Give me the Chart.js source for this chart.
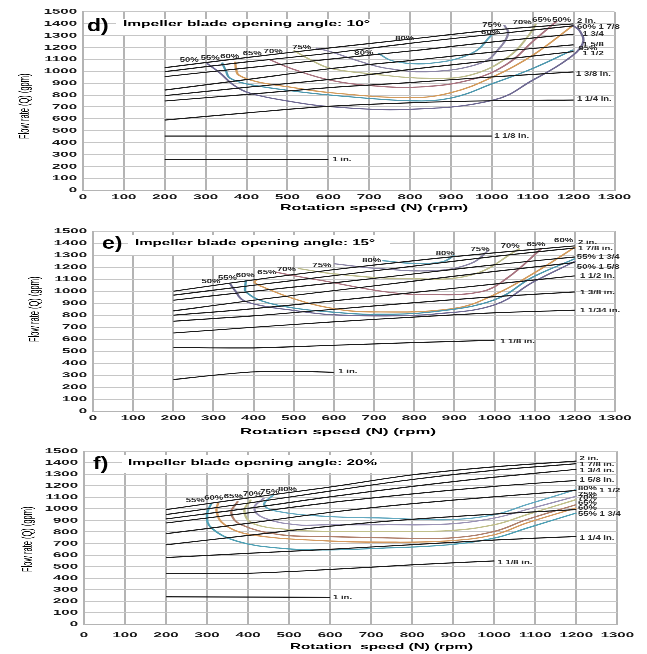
<!DOCTYPE html>
<html>
<head>
<meta charset="utf-8">
<script src="https://cdn.jsdelivr.net/npm/chart.js"></script>
<style>
  html, body { margin: 0; padding: 0; background: #fff; overflow: hidden; }
  /* the source picture is squashed vertically, so draw at 2x height and squash */
  #wrap { position: absolute; left: 0; top: 0; width: 647px; height: 1308px; transform: scaleY(0.5); transform-origin: 0 0; }
  #wrap canvas { position: absolute; left: 0; }
</style>
</head>
<body>
<div id="wrap">
  <canvas id="chartD" width="647" height="436" style="top:0"></canvas>
  <canvas id="chartE" width="647" height="436" style="top:436px"></canvas>
  <canvas id="chartF" width="647" height="436" style="top:872px"></canvas>
</div>
<script>
// rotation speed points where the pipe curves were read
const rpm = [200, 400, 600, 800, 1000, 1200];
const rpmTo1000 = [200, 400, 600, 800, 1000];
const rpmTo600 = [200, 400, 600];
const rpmTo600Fine = [200, 300, 400, 500, 600];

// d) 10 deg - flow rate per pipe size (gpm)
const flowD2 = [1030, 1115, 1195, 1270, 1345, 1398];
const flowD178 = [997, 1078, 1150, 1235, 1310, 1382];
const flowD134 = [955, 1028, 1100, 1170, 1245, 1312];
const flowD158 = [842, 930, 1020, 1090, 1160, 1222];
const flowD112 = [795, 865, 930, 1015, 1090, 1165];
const flowD138 = [750, 805, 862, 905, 952, 994];
const flowD114 = [590, 650, 705, 735, 752, 758];
const flowD118 = [455, 455, 455, 455, 455];
const flowD1 = [258, 258, 258];

// e) 15 deg
const flowE2 = [1000, 1095, 1180, 1255, 1320, 1378];
const flowE178 = [967, 1050, 1130, 1210, 1290, 1361];
const flowE134 = [925, 1000, 1070, 1145, 1220, 1286];
const flowE158 = [836, 925, 1005, 1085, 1165, 1239];
const flowE112 = [800, 855, 920, 990, 1060, 1128];
const flowE138 = [750, 795, 850, 905, 955, 994];
const flowE114 = [652, 700, 745, 785, 820, 842];
const flowE118 = [531, 528, 550, 572, 592];
const flowE1 = [264, 300, 328, 333, 325];

// f) 20 %
const flowF2 = [994, 1095, 1190, 1295, 1365, 1415];
const flowF178 = [951, 1050, 1155, 1255, 1335, 1392];
const flowF134 = [913, 1005, 1105, 1195, 1275, 1343];
const flowF158 = [878, 965, 1055, 1130, 1195, 1247];
const flowF112 = [785, 875, 970, 1045, 1105, 1160];
const flowF138 = [689, 770, 850, 910, 955, 994];
const flowF114 = [578, 615, 650, 690, 730, 761];
const flowF118 = [442, 442, 475, 515, 549];
const flowF1 = [238, 236, 234];

// efficiency contours, [rpm, gpm]
const effD50 = [[303,1067],[336,983],[368,885],[409,815],[500,750],[605,702],[800,680],[1004,758],[1101,927],[1183,1095],[1222,1230],[1215,1340],[1195,1390]];
const effD55 = [[340,1073],[350,1000],[360,941],[401,893],[500,840],[605,800],[800,752],[900,775],[1004,899],[1101,1025],[1199,1180]];
const effD60 = [[372,1081],[375,1010],[382,965],[425,912],[500,870],[605,820],[800,778],[900,820],[1004,955],[1101,1137],[1199,1386]];
const effD65 = [[458,1095],[520,1010],[605,925],[700,880],[825,868],[950,930],[1037,1060],[1100,1250],[1160,1425]];
const effD70 = [[515,1175],[560,1090],[605,1025],[700,980],[849,940],[950,970],[1040,1120],[1090,1300],[1108,1400]];
const effD75 = [[570,1195],[605,1165],[680,1080],[743,1025],[849,997],[972,1067],[1020,1200],[1040,1320],[1030,1390]];
const effD80 = [[722,1151],[760,1085],[849,1067],[950,1150],[1000,1306]];

const effE50 = [[341,1064],[355,1000],[374,925],[420,880],[500,840],[590,805],[731,795],[850,810],[997,883],[1097,1078],[1201,1250]];
const effE55 = [[381,1092],[379,1030],[381,994],[420,920],[500,860],[590,828],[690,808],[850,830],[997,925],[1096,1119],[1201,1272]];
const effE60 = [[410,1100],[402,1075],[420,1040],[499,939],[590,861],[690,828],[897,856],[997,967],[1096,1147],[1201,1369]];
const effE65 = [[455,1160],[500,1130],[565,1092],[731,994],[839,972],[964,994],[1030,1106],[1117,1356]];
const effE70 = [[510,1190],[600,1145],[773,1106],[939,1133],[1063,1356]];
const effE75 = [[600,1230],[700,1192],[850,1172],[940,1230],[985,1340]];
const effE80 = [[720,1255],[800,1232],[870,1245],[900,1300]];

const effF55 = [[311,1052],[300,950],[311,834],[375,718],[479,659],[591,645],[728,660],[888,689],[1000,747],[1080,834],[1200,965]];
const effF60 = [[327,1052],[323,979],[343,863],[407,776],[591,723],[728,712],[888,723],[1000,776],[1079,878],[1200,1009]];
const effF65 = [[375,1066],[359,965],[383,863],[479,776],[591,761],[728,750],[888,747],[1000,805],[1079,907],[1200,1037]];
const effF70 = [[407,1081],[391,979],[415,869],[503,820],[591,805],[728,805],[888,811],[1000,863],[1079,950],[1200,1081]];
const effF75 = [[439,1096],[415,1009],[439,921],[519,862],[591,863],[728,863],[888,869],[1000,921],[1079,994],[1200,1110]];
const effF80 = [[463,1125],[439,1037],[471,979],[591,935],[728,921],[888,907],[1000,950],[1079,1037],[1200,1168]];

// curve labels [rpm, gpm, text, align]
const labelsD = [
  [1208,1424,'2 in.'], [1208,1373,'60% 1 7/8'], [1222,1312,'1 3/4'], [1222,1227,'1 5/8'],
  [1212,1190,'95%'], [1222,1151,'1 1/2'], [1206,977,'1 3/8 in.'], [1208,767,'1 1/4 in.'],
  [1006,455,'1 1/8 in.'], [610,258,'1 in.'],
  [260,1095,'50%','center'], [311,1112,'55%','center'], [359,1123,'60%','center'],
  [414,1151,'65%','center'], [465,1165,'70%','center'], [535,1199,'75%','center'],
  [787,1278,'80%','center'], [687,1152,'80%','center'], [1000,1390,'75%','center'],
  [997,1328,'60%','center'], [1074,1410,'70%','center'], [1122,1432,'65%','center'],
  [1171,1432,'50%','center']
];
const labelsE = [
  [1208,1406,'2 in.'], [1208,1356,'1 7/8 in.'], [1205,1286,'55% 1 3/4'], [1205,1203,'50% 1 5/8'],
  [1213,1128,'1 1/2 in.'], [1213,989,'1 3/8 in.'], [1213,842,'1 1/34 in.'], [1014,583,'1 1/8 in.'],
  [611,333,'1 in.'],
  [294,1083,'50%','center'], [335,1111,'55%','center'], [379,1133,'60%','center'],
  [433,1156,'65%','center'], [482,1181,'70%','center'], [570,1217,'75%','center'],
  [694,1258,'80%','center'], [877,1314,'80%','center'], [964,1347,'75%','center'],
  [1039,1378,'70%','center'], [1103,1389,'65%','center'], [1172,1425,'60%','center']
];
const labelsF = [
  [1208,1438,'2 in.'], [1208,1386,'1 7/8 in.'], [1208,1334,'1 3/4 in.'], [1208,1250,'1 5/8 in.'],
  [1204,1177,'80%'], [1256,1160,'1 1/2'], [1204,1125,'75%'], [1204,1096,'70%'],
  [1204,1052,'65%'], [1204,1009,'60%'], [1204,956,'55% 1 3/4'], [1208,747,'1 1/4 in.'],
  [1008,534,'1 1/8 in.'], [607,233,'1 in.'],
  [271,1072,'55%','center'], [316,1096,'60%','center'], [364,1110,'65%','center'],
  [411,1131,'70%','center'], [453,1148,'75%','center'], [496,1168,'80%','center']
];

const FONT = '"Liberation Sans", Arial, sans-serif';
const PIPE = '#1c1c1c';

// draw text stretched to a given width (the source text is wide and flat)
function fitText(ctx, txt, x, y, w, weight) {
  ctx.font = weight + ' 16px ' + FONT;
  const m = ctx.measureText(txt).width;
  ctx.save();
  ctx.translate(x, y);
  ctx.scale(w / m, 1);
  ctx.fillText(txt, 0, 0);
  ctx.restore();
}

// plugin for title box, panel letter, curve labels and axis titles
function makeDecor(fr, labels) {
  return {
    id: 'decor',
    beforeDatasetsDraw(chart) {
      const ctx = chart.ctx;
      ctx.save();
      ctx.fillStyle = '#fff';
      ctx.fillRect(fr.box[0], fr.box[1] * 2, fr.box[2] - fr.box[0], (fr.box[3] - fr.box[1]) * 2);
      ctx.restore();
    },
    afterDatasetsDraw(chart) {
      const ctx = chart.ctx, xs = chart.scales.x, ys = chart.scales.y;
      ctx.save();
      ctx.fillStyle = '#2b2b2b';
      ctx.font = 'bold 9.5px ' + FONT;
      ctx.textBaseline = 'middle';
      labels.forEach(([xv, yv, txt, al]) => {
        ctx.textAlign = al || 'left';
        ctx.save();
        ctx.translate(xs.getPixelForValue(xv), ys.getPixelForValue(yv));
        ctx.scale(1, 1.4);
        ctx.fillText(txt, 0, 0);
        ctx.restore();
      });
      ctx.fillStyle = '#000';
      ctx.textAlign = 'left';
      ctx.save();
      ctx.translate(fr.letter[0], fr.letter[1] * 2);
      ctx.scale(1, 1.55);
      ctx.font = 'bold 23px ' + FONT;
      ctx.fillText(fr.letter[2], 0, 0);
      ctx.restore();
      fitText(ctx, fr.title[3], fr.title[0], fr.title[1] * 2, fr.title[2], 'bold');
      fitText(ctx, fr.xTitle[3], fr.xTitle[0], fr.xTitle[1] * 2, fr.xTitle[2], 'bold');
      ctx.save();
      ctx.textAlign = 'center';
      ctx.translate(fr.yTitle[0], fr.yTitle[1] * 2);
      ctx.rotate(-Math.PI / 2);
      ctx.font = '15px ' + FONT;
      ctx.fillText(fr.yTitle[2], 0, 0);
      ctx.restore();
      ctx.restore();
    }
  };
}

function makeChart(id, fr, pipes, effs, labels) {
  const datasets = [];
  pipes.forEach(([xs, ys]) => datasets.push({
    data: ys.map((v, i) => ({ x: xs[i], y: v })),
    borderColor: PIPE, borderWidth: 2.2, pointRadius: 0, tension: 0.3, showLine: true
  }));
  effs.forEach(([pts, color]) => datasets.push({
    data: pts.map(([x, y]) => ({ x, y })),
    borderColor: color, borderWidth: 2.4, pointRadius: 0, tension: 0.4, showLine: true
  }));
  new Chart(document.getElementById(id), {
    type: 'scatter',
    data: { datasets },
    options: {
      responsive: false,
      animation: false,
      events: [],
      layout: { padding: { left: 0, right: 647 - fr.right, top: fr.top * 2, bottom: 0 } },
      plugins: { legend: { display: false }, tooltip: { enabled: false } },
      scales: {
        x: {
          type: 'linear', min: 0, max: 1300,
          ticks: { stepSize: 100, color: '#1a1a1a', padding: fr.tickPad, maxRotation: 0, autoSkip: false,
                   callback: v => String(v),
                   font: { family: FONT, size: 15, weight: 'bold' } },
          grid: { color: '#b4b4b4', lineWidth: 2, drawTicks: false },
          border: { color: '#b4b4b4', width: 2 },
          afterFit(s) { s.height = 436 - fr.bottom * 2; }
        },
        y: {
          type: 'linear', min: 0, max: 1500,
          ticks: { stepSize: 100, color: '#1a1a1a', padding: 6, autoSkip: false,
                   callback: v => String(v),
                   font: { family: FONT, size: 15, weight: 'bold' } },
          grid: { color: '#c6c6c6', lineWidth: 2, drawTicks: false },
          border: { color: '#b4b4b4', width: 2 },
          afterFit(s) { s.width = fr.left; }
        }
      }
    },
    plugins: [makeDecor(fr, labels)]
  });
}

// frame positions are in final (unsquashed) canvas pixels: [x, y, width, text]
makeChart('chartD', {
  left: 83, right: 614.5, top: 11.5, bottom: 190, tickPad: 5,
  box: [116, 19, 380, 35],
  letter: [87, 26, 'd)'],
  title: [123, 24, 247, 'Impeller blade opening angle: 10°'],
  xTitle: [280, 208, 188, 'Rotation speed (N) (rpm)'],
  yTitle: [25, 106, 'Flow rate (Q) (gpm)']
}, [
  [rpm, flowD2], [rpm, flowD178], [rpm, flowD134], [rpm, flowD158], [rpm, flowD112],
  [rpm, flowD138], [rpm, flowD114], [rpmTo1000, flowD118], [rpmTo600, flowD1]
], [
  [effD50, '#6f6a93'], [effD55, '#4e98ae'], [effD60, '#d39b5c'], [effD65, '#a8737f'],
  [effD70, '#bcbc8c'], [effD75, '#8c86a6'], [effD80, '#5ea3b8']
], labelsD);

makeChart('chartE', {
  left: 93, right: 615, top: 13, bottom: 193, tickPad: 5,
  box: [128, 17, 390, 37],
  letter: [102, 25.5, 'e)'],
  title: [135, 25, 240, 'Impeller blade opening angle: 15°'],
  xTitle: [240, 214, 196, 'Rotation speed (N) (rpm)'],
  yTitle: [35, 91, 'Flow rate (Q) (gpm)']
}, [
  [rpm, flowE2], [rpm, flowE178], [rpm, flowE134], [rpm, flowE158], [rpm, flowE112],
  [rpm, flowE138], [rpm, flowE114], [rpmTo1000, flowE118], [rpmTo600Fine, flowE1]
], [
  [effE50, '#6f6a93'], [effE55, '#4e98ae'], [effE60, '#d39b5c'], [effE65, '#a8737f'],
  [effE70, '#bcbc8c'], [effE75, '#8c86a6'], [effE80, '#5ea3b8']
], labelsE);

makeChart('chartF', {
  left: 84, right: 625, top: 15, bottom: 188, tickPad: 13,
  box: [122, 19, 380, 37],
  letter: [93, 28, 'f)'],
  title: [128, 27, 249, 'Impeller blade opening angle: 20%'],
  xTitle: [290, 211, 183, 'Rotation  speed (N) (rpm)'],
  yTitle: [28, 103, 'Flow rate (Q) (gpm)']
}, [
  [rpm, flowF2], [rpm, flowF178], [rpm, flowF134], [rpm, flowF158], [rpm, flowF112],
  [rpm, flowF138], [rpm, flowF114], [rpmTo1000, flowF118], [rpmTo600, flowF1]
], [
  [effF55, '#4fa0b4'], [effF60, '#d49a60'], [effF65, '#b0806c'], [effF70, '#c0bf8a'],
  [effF75, '#9a92b5'], [effF80, '#63a9c0']
], labelsF);
</script>
</body>
</html>
